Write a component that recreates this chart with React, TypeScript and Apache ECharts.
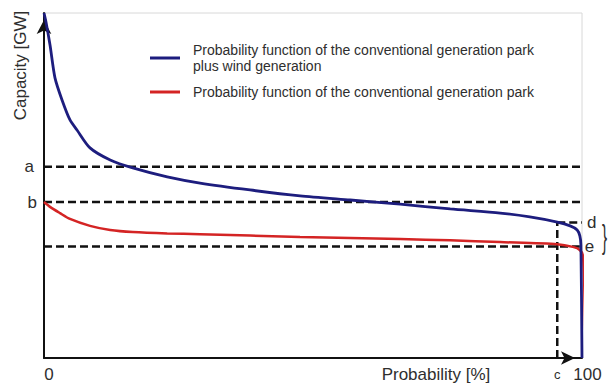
import { useEffect, useRef } from 'react';
import * as echarts from 'echarts';

// Capacity outage probability curves (probability in %, capacity scaled 0–100)
const WIND_PROB = [0, 0.37, 1.12, 2.04, 3.35, 4.83, 6.13, 8.55, 12.3, 16.5, 22.9, 29.0, 38.3, 47.6, 56.9, 66.2, 75.5, 84.8, 90.3, 95.4, 97.8, 99.1, 99.6, 99.8, 100];
const WIND_CAP = [100, 97.4, 90.7, 81.2, 74.8, 69.0, 66.1, 60.9, 57.4, 55.1, 52.5, 50.7, 48.7, 47.0, 45.8, 44.6, 43.2, 42.0, 40.9, 39.4, 38.3, 37.1, 35.4, 32.8, 0];

const CONV_PROB = [0, 1.12, 2.97, 4.83, 8.55, 12.3, 16.5, 22.9, 29.0, 47.6, 66.2, 75.5, 84.8, 95.4, 98.3, 99.6, 100.2, 100.6];
const CONV_CAP = [45.2, 43.8, 42.0, 40.3, 38.3, 37.1, 36.5, 36.1, 35.9, 35.1, 34.5, 34.1, 33.6, 33.0, 32.2, 31.3, 29.3, 8.1];

// Reference levels marked on the axes
const LEVEL_A = 55.4;
const LEVEL_B = 45.2;
const LEVEL_D = 39.3;
const LEVEL_E = 32.3;
const PROB_C = 95.4;

const X_TICKS = [0, PROB_C, 100];
const Y_TICKS = [LEVEL_A, LEVEL_B];

const NAME_WIND = 'Probability function of the conventional generation park\nplus wind generation';
const NAME_CONV = 'Probability function of the conventional generation park';

const FONT = '"Liberation Sans", Arial, Helvetica, sans-serif';
const TEXT = '#2e2e2e';
const BLUE = '#1d1d7e';
const RED = '#d42424';

const zip = (xs: number[], ys: number[]) => xs.map((x, i) => [x, ys[i]]);

const dashed = (data: number[][], extra: Record<string, unknown> = {}) => ({
  type: 'line',
  data,
  symbol: 'none',
  silent: true,
  clip: false,
  z: 1,
  lineStyle: { color: '#111', width: 2.5, type: [8, 4] },
  ...extra,
});

export default function App() {
  const ref = useRef<HTMLDivElement>(null);

  useEffect(() => {
    const chart = echarts.init(ref.current!, null, { renderer: 'svg' });
    chart.setOption({
      animation: false,
      backgroundColor: '#ffffff',
      textStyle: { fontFamily: FONT },
      grid: {
        left: 44,
        right: 26,
        top: 13,
        bottom: 27,
        containLabel: false,
        outerBoundsMode: 'none',
        show: true,
        borderColor: '#d8d8d8',
        borderWidth: 1,
      },
      legend: [
        {
          data: [NAME_WIND],
          left: 150,
          top: 39,
          padding: 0,
          icon: 'rect',
          itemWidth: 30,
          itemHeight: 3,
          selectedMode: false,
          textStyle: { fontSize: 14, lineHeight: 16, color: TEXT, padding: [6, 0, 0, 8] },
        },
        {
          data: [NAME_CONV],
          left: 150,
          top: 79,
          padding: 0,
          icon: 'rect',
          itemWidth: 30,
          itemHeight: 3,
          selectedMode: false,
          textStyle: { fontSize: 14, lineHeight: 16, color: TEXT, padding: [10, 0, 0, 8] },
        },
      ],
      xAxis: {
        type: 'value',
        min: 0,
        max: 100,
        name: 'Probability [%]',
        nameLocation: 'middle',
        nameGap: 8,
        nameMoveOverlap: false,
        nameTextStyle: { fontSize: 17, color: TEXT, padding: [0, 0, 0, 246] },
        axisLine: {
          lineStyle: { color: '#111', width: 2 },
          symbol: ['none', 'arrow'],
          symbolSize: [10, 14],
          symbolOffset: [0, -7],
        },
        axisTick: { show: false },
        splitLine: { show: false },
        axisLabel: {
          customValues: X_TICKS,
          showMinLabel: true,
          showMaxLabel: true,
          margin: 8,
          color: TEXT,
          formatter: (v: number) => (v === 0 ? '{n|0}' : v === 100 ? '{m|100}' : '{c|c}'),
          rich: {
            n: { fontSize: 17, color: TEXT, padding: [0, 0, 0, 10] },
            m: { fontSize: 17, color: TEXT, padding: [0, 0, 0, 11] },
            c: { fontSize: 13, color: TEXT, padding: [2, 0, 0, 0] },
          },
        },
      },
      yAxis: {
        type: 'value',
        min: 0,
        max: 100,
        name: 'Capacity [GW]',
        nameLocation: 'middle',
        nameRotate: 90,
        nameGap: 15,
        nameMoveOverlap: false,
        nameTextStyle: { fontSize: 17, color: TEXT, padding: [0, 0, 0, 240] },
        axisLine: {
          lineStyle: { color: '#111', width: 2 },
          symbol: ['none', 'arrow'],
          symbolSize: [11, 14],
          symbolOffset: [0, -7],
        },
        axisTick: { show: false },
        splitLine: { show: false },
        axisLabel: {
          customValues: Y_TICKS,
          showMinLabel: true,
          showMaxLabel: true,
          margin: 7,
          formatter: (v: number) => (v === LEVEL_A ? '{a|a}' : '{b|b}'),
          rich: {
            a: { fontSize: 17, color: TEXT, padding: [0, 3, 0, 0] },
            b: { fontSize: 17, color: TEXT },
          },
        },
      },
      graphic: [
        {
          type: 'text',
          x: 602,
          y: 236,
          scaleX: 0.45,
          style: {
            text: '}',
            font: `34px ${FONT}`,
            fill: TEXT,
            align: 'left',
            verticalAlign: 'middle',
          },
        },
      ],
      series: [
        dashed([[0, LEVEL_A], [100, LEVEL_A]]),
        dashed([[0, LEVEL_B], [100, LEVEL_B]]),
        dashed([[0, LEVEL_E], [99.6, LEVEL_E]], {
          endLabel: { show: true, formatter: 'e', distance: 5, fontSize: 17, color: TEXT },
        }),
        dashed([[PROB_C, LEVEL_D], [100, LEVEL_D]], {
          endLabel: { show: true, formatter: 'd', distance: 5, fontSize: 17, color: TEXT },
        }),
        dashed([[PROB_C, 0], [PROB_C, LEVEL_D]]),
        {
          name: NAME_CONV,
          type: 'line',
          data: zip(CONV_PROB, CONV_CAP),
          symbol: 'none',
          smooth: 0.25,
          clip: false,
          z: 3,
          color: RED,
          lineStyle: { color: RED, width: 2.5 },
        },
        {
          name: NAME_WIND,
          type: 'line',
          data: zip(WIND_PROB, WIND_CAP),
          symbol: 'none',
          smooth: 0.25,
          clip: false,
          z: 4,
          color: BLUE,
          lineStyle: { color: BLUE, width: 2.8 },
        },
      ],
    });
    return () => chart.dispose();
  }, []);

  return (
    <div
      ref={ref}
      style={{ position: 'fixed', left: 0, top: 0, width: 608, height: 385, background: '#fff' }}
    />
  );
}
